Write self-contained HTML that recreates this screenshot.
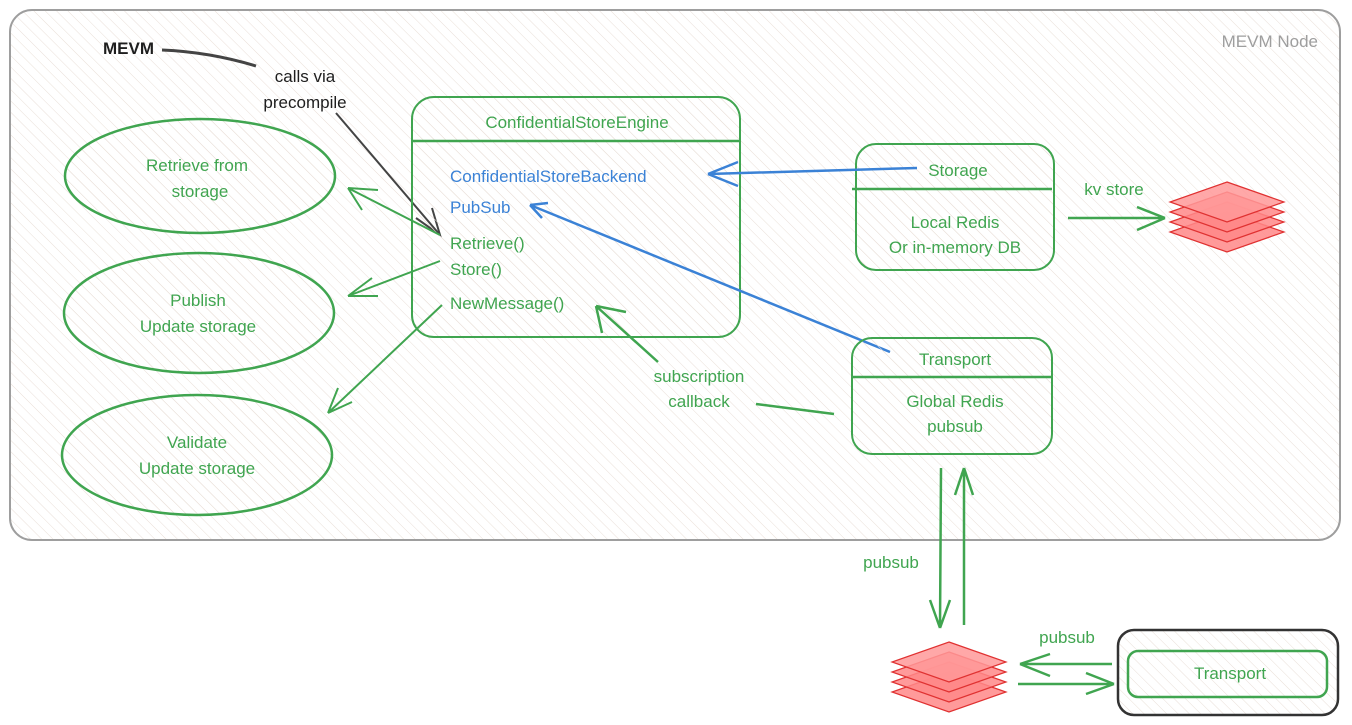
<!DOCTYPE html>
<html><head><meta charset="utf-8"><style>
html,body{margin:0;padding:0;background:#fff;}
svg{display:block;}
text{font-family:"Liberation Sans",sans-serif;font-size:17px;}
</style></head><body>
<svg width="1352" height="725" viewBox="0 0 1352 725" xmlns="http://www.w3.org/2000/svg">
<defs>
<pattern id="h" width="8" height="8" patternUnits="userSpaceOnUse" patternTransform="rotate(-45)">
<line x1="0" y1="0" x2="0" y2="8" stroke="#e9dfd8" stroke-width="1"/>
</pattern>
<g id="stack">
<polygon points="0,-28 57,-8 0,12 -57,-8" fill="#f88" fill-opacity="0.85" stroke="#e03131" stroke-width="1.2"/>
<polygon points="0,-38 57,-18 0,2 -57,-18" fill="#f88" fill-opacity="0.85" stroke="#e03131" stroke-width="1.2"/>
<polygon points="0,-48 57,-28 0,-8 -57,-28" fill="#f88" fill-opacity="0.85" stroke="#e03131" stroke-width="1.2"/>
<polygon points="0,-58 57,-38 0,-18 -57,-38" fill="#f99" fill-opacity="0.85" stroke="#e03131" stroke-width="1.2"/>
</g>
</defs>
<!-- outer node -->
<rect x="10" y="10" width="1330" height="530" rx="22" fill="url(#h)" stroke="#9e9e9e" stroke-width="2"/>
<text x="1318" y="47" text-anchor="end" fill="#9e9e9e" font-size="16">MEVM Node</text>

<!-- MEVM -->
<text x="103" y="54" fill="#1e1e1e" font-size="15" font-weight="bold">MEVM</text>
<path d="M162 50 Q210 52 256 66" stroke="#444" stroke-width="3" fill="none"/>
<text x="305" y="82" text-anchor="middle" fill="#1e1e1e">calls via</text>
<text x="305" y="108" text-anchor="middle" fill="#1e1e1e">precompile</text>
<path d="M336 113 L440 235" stroke="#444" stroke-width="2" fill="none"/>
<path d="M416 218 L440 235 L432 208" stroke="#444" stroke-width="2" fill="none"/>

<!-- ellipses -->
<g fill="url(#h)" stroke="#40a550" stroke-width="2.5">
<ellipse cx="200" cy="176" rx="135" ry="57"/>
<ellipse cx="199" cy="313" rx="135" ry="60"/>
<ellipse cx="197" cy="455" rx="135" ry="60"/>
</g>
<g fill="#40a550" text-anchor="middle">
<text x="197" y="171">Retrieve from</text><text x="200" y="197">storage</text>
<text x="198" y="306">Publish</text><text x="198" y="332">Update storage</text>
<text x="197" y="448">Validate</text><text x="197" y="474">Update storage</text>
</g>

<!-- engine -->
<rect x="412" y="97" width="328" height="240" rx="22" fill="url(#h)" stroke="#40a550" stroke-width="2"/>
<line x1="412" y1="141" x2="740" y2="141" stroke="#40a550" stroke-width="2.5"/>
<text x="577" y="128" text-anchor="middle" fill="#40a550" font-size="16">ConfidentialStoreEngine</text>
<text x="450" y="182" fill="#3b82d6">ConfidentialStoreBackend</text>
<text x="450" y="213" fill="#3b82d6">PubSub</text>
<text x="450" y="249" fill="#40a550">Retrieve()</text>
<text x="450" y="275" fill="#40a550">Store()</text>
<text x="450" y="309" fill="#40a550">NewMessage()</text>

<!-- green arrows to ellipses -->
<g stroke="#40a550" stroke-width="2" fill="none">
<path d="M440 235 L348 188 M348 188 L378 190 M348 188 L362 210"/>
<path d="M440 261 L348 296 M348 296 L372 278 M348 296 L378 296"/>
<path d="M442 305 L328 413 M328 413 L338 388 M328 413 L352 402"/>
</g>

<!-- storage box -->
<rect x="856" y="144" width="198" height="126" rx="20" fill="url(#h)" stroke="#40a550" stroke-width="2"/>
<line x1="852" y1="189" x2="1052" y2="189" stroke="#40a550" stroke-width="2.5"/>
<text x="958" y="176" text-anchor="middle" fill="#40a550">Storage</text>
<text x="955" y="228" text-anchor="middle" fill="#40a550">Local Redis</text>
<text x="955" y="253" text-anchor="middle" fill="#40a550">Or in-memory DB</text>
<text x="1114" y="195" text-anchor="middle" fill="#40a550">kv store</text>
<g stroke="#40a550" stroke-width="2.5" fill="none">
<path d="M1068 218 L1165 218 M1165 218 L1137 207 M1165 218 L1137 230"/>
</g>
<use href="#stack" x="1227" y="240"/>

<!-- blue arrows -->
<g stroke="#3b82d6" stroke-width="2.5" fill="none">
<path d="M917 168 L708 174 M708 174 L738 162 M708 174 L738 186"/>
<path d="M890 352 L530 205 M530 205 L542 218 M530 205 L548 203"/>
</g>

<!-- transport box -->
<rect x="852" y="338" width="200" height="116" rx="20" fill="url(#h)" stroke="#40a550" stroke-width="2"/>
<line x1="852" y1="377" x2="1052" y2="377" stroke="#40a550" stroke-width="2.5"/>
<text x="955" y="365" text-anchor="middle" fill="#40a550">Transport</text>
<text x="955" y="407" text-anchor="middle" fill="#40a550">Global Redis</text>
<text x="955" y="432" text-anchor="middle" fill="#40a550">pubsub</text>

<text x="699" y="382" text-anchor="middle" fill="#40a550">subscription</text>
<text x="699" y="407" text-anchor="middle" fill="#40a550">callback</text>
<g stroke="#40a550" stroke-width="2.5" fill="none">
<path d="M756 404 L834 414"/>
<path d="M658 362 L596 306 M596 306 L602 333 M596 306 L626 312"/>
</g>

<!-- vertical pubsub -->
<g stroke="#40a550" stroke-width="2.5" fill="none">
<path d="M941 468 L940 628 M940 628 L930 600 M940 628 L950 600"/>
<path d="M964 625 L964 468 M964 468 L955 495 M964 468 L973 495"/>
</g>
<text x="891" y="568" text-anchor="middle" fill="#40a550">pubsub</text>
<use href="#stack" x="949" y="700"/>

<!-- bottom transport -->
<rect x="1118" y="630" width="220" height="85" rx="16" fill="url(#h)" stroke="#333" stroke-width="2.5"/>
<rect x="1128" y="651" width="199" height="46" rx="10" fill="none" stroke="#40a550" stroke-width="2.5"/>
<text x="1230" y="679" text-anchor="middle" fill="#40a550">Transport</text>
<text x="1067" y="643" text-anchor="middle" fill="#40a550">pubsub</text>
<g stroke="#40a550" stroke-width="2.5" fill="none">
<path d="M1112 664 L1020 664 M1020 664 L1050 654 M1020 664 L1050 676"/>
<path d="M1018 684 L1114 684 M1114 684 L1086 673 M1114 684 L1086 694"/>
</g>
</svg>
</body></html>
